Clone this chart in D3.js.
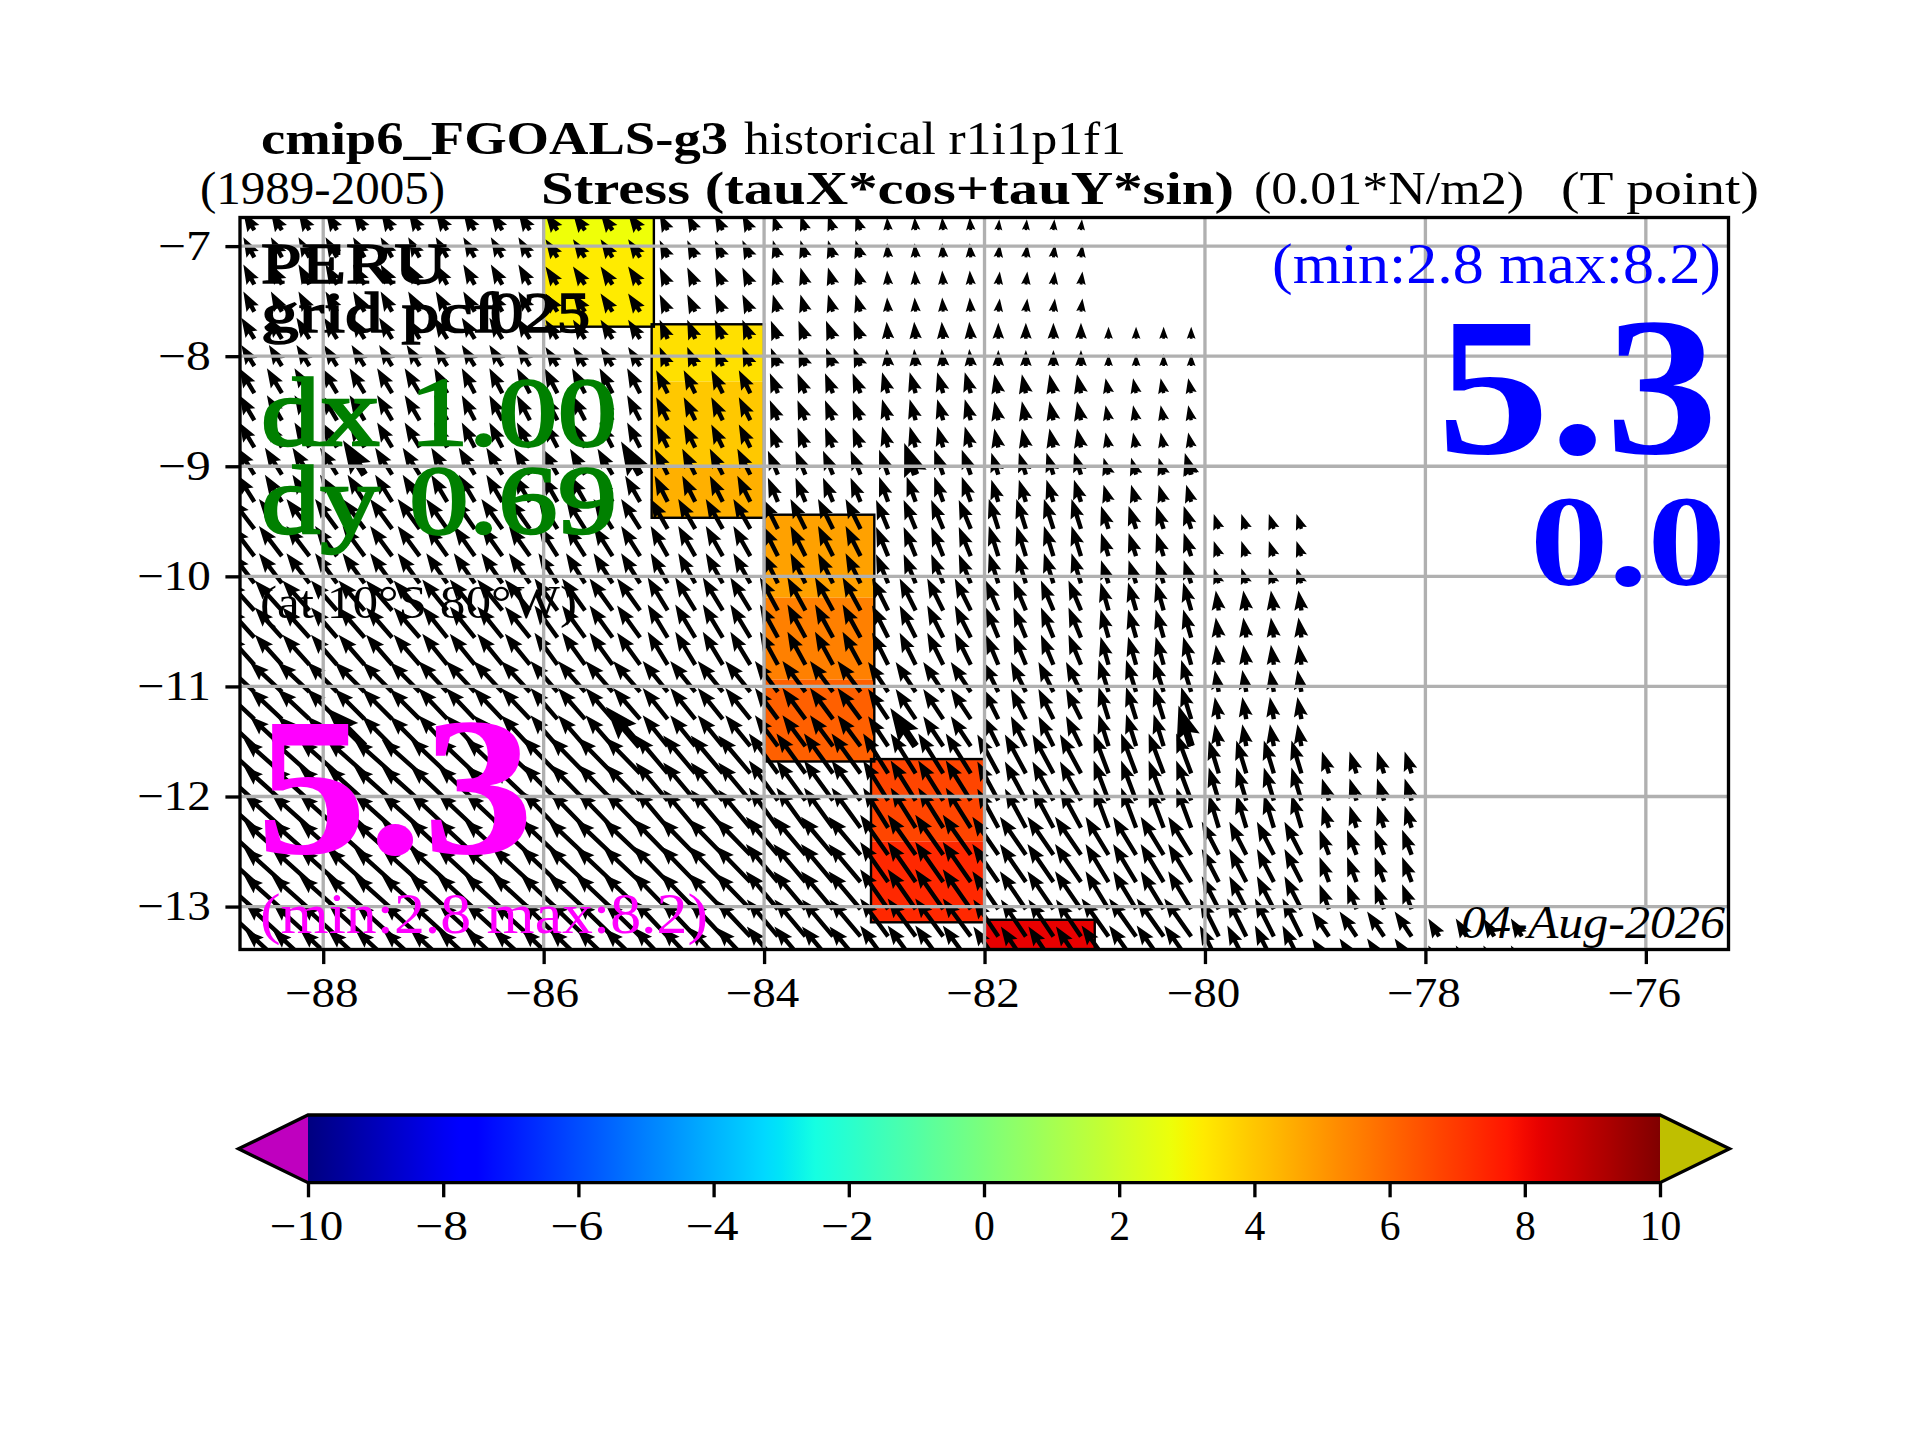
<!DOCTYPE html>
<html>
<head>
<meta charset="utf-8">
<script src="https://cdn.jsdelivr.net/npm/d3@7"></script>
<style>
  body { margin: 0; background: #fff; }
  svg { display: block; }
  text { font-family: "Liberation Serif", serif; fill: #000; }
</style>
</head>
<body>
<script>
// Grid the arrows sit on
const lonCols = [-88.625,-88.375,-88.125,-87.875,-87.625,-87.375,-87.125,-86.875,-86.625,-86.375,-86.125,-85.875,
  -85.625,-85.375,-85.125,-84.875,-84.625,-84.375,-84.125,-83.875,-83.625,-83.375,-83.125,-82.875,-82.625,-82.375,
  -82.125,-81.875,-81.625,-81.375,-81.125,-80.875,-80.625,-80.375,-80.125,-79.875,-79.625,-79.375,-79.125,-78.875,
  -78.625,-78.375,-78.125,-77.875,-77.625,-77.375,-77.125];
const latRows = [-6.855,-7.102,-7.349,-7.595,-7.842,-8.089,-8.336,-8.582,-8.829,-9.076,-9.323,-9.569,-9.816,-10.063,
  -10.31,-10.556,-10.803,-11.05,-11.297,-11.543,-11.79,-12.037,-12.284,-12.53,-12.777,-13.024,-13.271,-13.518];

// Which coarse model cell each row and column of the arrow grid falls in
const rowBand = [0,1,1,1,2,2,3,3,3,4,4,5,5,5,6,6,6,7,7,7,8,8,8,9,9,9,10,10];
const coarseLon = [-89,-88,-87,-86,-85,-84,-83,-82,-81,-80,-79,-78];

// Stress per coarse cell (one row per band, west to east, row stops at the coast)
const tauX = [
  [-2.2,-2.2,-2.3,-2.4,-1.6,-1.0,-0.2,0.2],
  [-2.2,-2.3,-2.3,-2.4,-1.6,-1.0,-0.2,0.3],
  [-2.6,-2.6,-2.6,-2.4,-1.6,-1.4,-0.3,0,0],
  [-3,-3,-2.6,-2.6,-2.3,-1.6,-1.2,-0.8,-0.6],
  [-3.4,-3.4,-3.2,-3,-2.6,-2,-1.8,-1.4,-1],
  [-4.6,-4.4,-4.2,-3.8,-3.4,-3,-2.4,-1.9,-1.5,-1],
  [-5.4,-5.2,-5,-4.6,-4,-3.6,-3.2,-2.5,-1.6,-0.6],
  [-6.4,-6,-5.8,-5.4,-5,-4.6,-4,-3,-2,-0.8],
  [-7.6,-7.6,-7.4,-7,-6.4,-5.8,-5,-4.2,-3,-2,-1.4],
  [-7.6,-7.6,-7.6,-7.4,-7,-6.4,-5.6,-5.2,-4.6,-3.4,-1.9],
  [-7.4,-7.4,-7.4,-7.2,-6.8,-6.2,-5.6,-5,-5.4,-3.8,-3.4,-2.2]
];
const tauY = [
  [3.6,3.6,3.6,3.4,3.2,3,2.6,2.2],
  [4,4,4,3.6,3.4,3.4,2.8,2.6],
  [4.2,4.2,4.2,3.8,3.8,3.6,3.4,3.2,2.4],
  [5,5,5,5,4.6,4,4.2,3.8,3],
  [5.4,5.4,5.4,5.2,5.2,4.8,5,4.4,3.4],
  [6,6,6,6,6,6,5.8,6,4.6,3],
  [6,6,6.2,6.4,6.6,6.6,6.4,6,5.6,4],
  [6,6,6.2,6.2,6.2,6.2,6,6,6.4,4.4],
  [6.8,6.8,7,7.2,7.6,8,8,7.8,8,6.6,4.4],
  [6.8,6.8,7,7,7.2,7.6,8,7.6,7.6,6.6,5],
  [6.8,6.8,6.8,7,7.2,7.4,7.6,7.4,7.6,7.6,5,3.6]
];

// Thick arrows drawn on top
const bigLons = [-87.625,-85.125,-82.625,-80.125];
const bigRows = [9,19];

// Coloured section cells
const cellWest  = [-86,-86,-85.02,-85.02,-85.02,-84,-84,-84,-83.03,-83.03,-82];
const cellEast  = [-85,-85,-84,-84,-84,-83,-83,-83,-82,-82,-81];
const cellNorth = [-6.74,-7,-7.71,-8.231,-9.003,-9.44,-10.194,-10.938,-11.66,-12.408,-13.12];
const cellSouth = [-7,-7.732,-8.231,-9.003,-9.468,-10.194,-10.938,-11.682,-12.408,-13.143,-13.39];
const cellValue = [2.8,3.23,3.46,3.96,4.47,4.8,5.5,6.17,6.74,7.35,8.2];

// Outlines round the runs of cells in one longitude
const blockCells = [[0,1],[2,4],[5,7],[8,9],[10,10]];

// Ticks
const lonTicks = [-88,-86,-84,-82,-80,-78,-76];
const latTicks = [-7,-8,-9,-10,-11,-12,-13];
const barTicks = [-10,-8,-6,-4,-2,0,2,4,6,8,10];

// Jet colour stops
const jetRx = [0,0.35,0.66,0.89,1], jetRy = [0,0,1,1,0.5];
const jetGx = [0,0.125,0.375,0.64,0.91,1], jetGy = [0,0,1,1,0,0];
const jetBx = [0,0.11,0.34,0.65,1], jetBy = [0.5,1,1,0,0];

const svg = d3.select("body").append("svg")
  .attr("width", 1920)
  .attr("height", 1440)
  .attr("viewBox", "0 0 1920 1440");

const x = d3.scaleLinear().domain([-88.755, -75.25]).range([240, 1728.5]);
const y = d3.scaleLinear().domain([-13.39, -6.74]).range([949.5, 217.5]);
const speed = d3.scaleLinear().domain([0, 10]).range([0, 50]);

const jetR = d3.scaleLinear().domain(jetRx).range(jetRy);
const jetG = d3.scaleLinear().domain(jetGx).range(jetGy);
const jetB = d3.scaleLinear().domain(jetBx).range(jetBy);
const norm = d3.scaleLinear().domain([-10, 10]).range([0, 1]);
const jet = v => {
  const t = norm(v);
  return d3.rgb(jetR(t) * 255, jetG(t) * 255, jetB(t) * 255).formatHex();
};

const defs = svg.append("defs");
defs.append("clipPath").attr("id", "axes-clip")
  .append("rect")
    .attr("x", x.range()[0])
    .attr("y", y.range()[1])
    .attr("width", x.range()[1] - x.range()[0])
    .attr("height", y.range()[0] - y.range()[1]);

const plot = svg.append("g").attr("clip-path", "url(#axes-clip)");

// Section cells
plot.selectAll("rect.cell")
  .data(cellValue)
  .join("rect")
    .attr("class", "cell")
    .attr("x", (d, i) => x(cellWest[i]))
    .attr("y", (d, i) => y(cellNorth[i]))
    .attr("width", (d, i) => x(cellEast[i]) - x(cellWest[i]))
    .attr("height", (d, i) => y(cellSouth[i]) - y(cellNorth[i]))
    .attr("fill", d => jet(d));

plot.selectAll("rect.block")
  .data(blockCells)
  .join("rect")
    .attr("class", "block")
    .attr("x", d => x(cellWest[d[0]]))
    .attr("y", d => y(cellNorth[d[0]]))
    .attr("width", d => x(cellEast[d[0]]) - x(cellWest[d[0]]))
    .attr("height", d => y(cellSouth[d[1]]) - y(cellNorth[d[0]]))
    .attr("fill", "none")
    .attr("stroke", "black")
    .attr("stroke-width", 2.4);

// Quiver arrow outline, short arrows shrink as a whole like matplotlib's
function arrowPoints(len, w) {
  const k = Math.min(1, len / (4.4 * w));
  const hl = 4.4 * w * k, ha = 3.9 * w * k, hw = 1.6 * w * k, sw = 0.5 * w * k;
  return [[0, -sw], [len - ha, -sw], [len - hl, -hw], [len, 0], [len - hl, hw], [len - ha, sw], [0, sw]]
    .map(p => p.join(",")).join(" ");
}

const arrows = [];
latRows.forEach((lat, r) => {
  lonCols.forEach(lon => {
    const c = coarseLon.indexOf(Math.floor(lon));
    const b = rowBand[r];
    if (c < 0 || c >= tauX[b].length) return;
    arrows.push({lon, lat, r, u: tauX[b][c], v: tauY[b][c]});
  });
});

const drawArrow = (sel, w, stretch) => sel
  .attr("points", d => arrowPoints(speed(Math.hypot(d.u, d.v)) * stretch, w))
  .attr("transform", d => `translate(${x(d.lon)},${y(d.lat)}) rotate(${Math.atan2(-d.v, d.u) * 180 / Math.PI})`)
  .attr("fill", "black");

plot.selectAll("polygon.arrow")
  .data(arrows)
  .join("polygon")
    .attr("class", "arrow")
    .call(drawArrow, 4.4, 1);

plot.selectAll("polygon.big")
  .data(arrows.filter(d => bigLons.includes(d.lon) && bigRows.includes(d.r)))
  .join("polygon")
    .attr("class", "big")
    .call(drawArrow, 7.5, 1.27);

// Grid
const grid = svg.append("g").attr("stroke", "#b0b0b0").attr("stroke-width", 3.33);
grid.selectAll("line.v").data(lonTicks).join("line")
  .attr("class", "v")
  .attr("x1", d => x(d)).attr("x2", d => x(d))
  .attr("y1", y.range()[0]).attr("y2", y.range()[1]);
grid.selectAll("line.h").data(latTicks).join("line")
  .attr("class", "h")
  .attr("x1", x.range()[0]).attr("x2", x.range()[1])
  .attr("y1", d => y(d)).attr("y2", d => y(d));

// Frame
svg.append("rect")
  .attr("x", x.range()[0])
  .attr("y", y.range()[1])
  .attr("width", x.range()[1] - x.range()[0])
  .attr("height", y.range()[0] - y.range()[1])
  .attr("fill", "none")
  .attr("stroke", "black")
  .attr("stroke-width", 3.33);

// Computer Modern is wider than Times in the minus sign, so fix the label widths
const tickLen = d => (d < 0 ? 32 : 0) + String(Math.abs(d)).length * 20.8;

function styleAxis(g) {
  g.select(".domain").remove();
  g.selectAll(".tick line").attr("stroke", "black").attr("stroke-width", 3.33);
  g.selectAll(".tick text")
    .attr("font-size", 41.67)
    .attr("textLength", d => tickLen(d))
    .attr("lengthAdjust", "spacingAndGlyphs");
}

svg.append("g")
  .attr("transform", `translate(0,${y.range()[0]})`)
  .call(d3.axisBottom(x).tickValues(lonTicks).tickSizeInner(14.6).tickSizeOuter(0).tickPadding(14).tickFormat(d3.format("d")))
  .call(styleAxis)
  .selectAll(".tick text").attr("x", -2).attr("y", 57).attr("dy", 0);

svg.append("g")
  .attr("transform", `translate(${x.range()[0]},0)`)
  .call(d3.axisLeft(y).tickValues(latTicks).tickSizeInner(14.6).tickSizeOuter(0).tickPadding(14.6).tickFormat(d3.format("d")))
  .call(styleAxis)
  .selectAll(".tick text").attr("dy", "0.32em");

// Colour bar
const bar = d3.scaleLinear().domain([-10, 10]).range([308, 1660]);
const barTop = 1115, barBottom = 1182.7, barMid = (barTop + barBottom) / 2;

svg.append("polygon")
  .attr("points", `${bar(-10)},${barTop} ${bar(-10)},${barBottom} 238.5,${barMid}`)
  .attr("fill", "#bf00bf");
svg.append("polygon")
  .attr("points", `${bar(10)},${barTop} ${bar(10)},${barBottom} 1729.5,${barMid}`)
  .attr("fill", "#bfbf00");

const barGradient = defs.append("linearGradient").attr("id", "bar-gradient");
barGradient.selectAll("stop")
  .data(d3.range(-10, 10.01, 0.25))
  .join("stop")
    .attr("offset", d => norm(d))
    .attr("stop-color", d => jet(d));

svg.append("rect")
  .attr("x", bar(-10))
  .attr("y", barTop)
  .attr("width", bar(10) - bar(-10))
  .attr("height", barBottom - barTop)
  .attr("fill", "url(#bar-gradient)");

svg.append("polygon")
  .attr("points", `${bar(-10)},${barTop} ${bar(10)},${barTop} 1729.5,${barMid} ${bar(10)},${barBottom} ${bar(-10)},${barBottom} 238.5,${barMid}`)
  .attr("fill", "none")
  .attr("stroke", "black")
  .attr("stroke-width", 3.33);

svg.append("g")
  .attr("transform", `translate(0,${barBottom})`)
  .call(d3.axisBottom(bar).tickValues(barTicks).tickSizeInner(14.6).tickSizeOuter(0).tickFormat(d3.format("d")))
  .call(styleAxis)
  .selectAll(".tick text").attr("x", d => d < 0 ? -2 : 0).attr("y", 57).attr("dy", 0);

// Text placed by left edge, right edge and baseline
function label(str, x0, x1, base, size, opts = {}) {
  const color = opts.color || "black";
  return svg.append("text")
    .text(str)
    .attr("x", x0)
    .attr("y", base)
    .attr("font-size", size)
    .attr("textLength", x1 - x0)
    .attr("lengthAdjust", "spacingAndGlyphs")
    .attr("font-weight", opts.bold ? "bold" : "normal")
    .attr("font-style", opts.italic ? "italic" : "normal")
    .style("fill", color)
    .style("stroke", opts.heavy ? color : "none")
    .style("stroke-width", opts.heavy || 0);
}

label("cmip6_FGOALS-g3", 261, 728, 154, 47, {bold: true});
label("historical r1i1p1f1", 744, 1126, 154, 47);
label("(1989-2005)", 200, 445, 204, 46);
label("Stress (tauX*cos+tauY*sin)", 541, 1234, 204, 46, {bold: true});
label("(0.01*N/m2)", 1254, 1524, 204, 46);
label("(T point)", 1561, 1759, 204, 46);

label("PERU", 261, 447, 283, 58, {heavy: 1.6});
// the 025 runs into the f in the original, so it gets its own start
const gridName = svg.append("text").attr("y", 332).attr("font-size", 58)
  .style("stroke", "black").style("stroke-width", 1.6);
gridName.append("tspan").attr("x", 261).attr("textLength", 237).attr("lengthAdjust", "spacingAndGlyphs").text("grid pcf");
gridName.append("tspan").attr("x", 490).attr("textLength", 100).attr("lengthAdjust", "spacingAndGlyphs").text("025");
label("dx 1.00", 261, 617, 445, 98, {heavy: 2.4, color: "#008000"});
label("dy 0.69", 261, 617, 533, 98, {heavy: 2.4, color: "#008000"});
label("(at 10°S 80°W)", 260, 577, 618, 46);

label("5.3", 256, 534, 853, 198, {bold: true, color: "#ff00ff"});
label("(min:2.8 max:8.2)", 260, 708, 933, 58, {color: "#ff00ff"});

label("(min:2.8 max:8.2)", 1272, 1721, 283, 58, {color: "#0000ff"});
label("5.3", 1437, 1718, 453, 198, {bold: true, color: "#0000ff"});
label("0.0", 1530, 1726, 585, 130, {bold: true, color: "#0000ff"});

label("04-Aug-2026", 1461, 1725, 938, 46, {italic: true});
</script>
</body>
</html>
